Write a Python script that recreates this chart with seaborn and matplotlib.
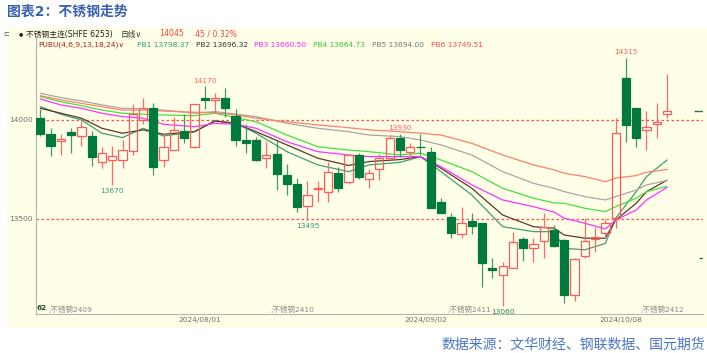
import matplotlib
matplotlib.use("Agg")
import matplotlib.pyplot as plt
import numpy as np
import pandas as pd
import seaborn as sns

# daily candles, 不锈钢主连, 2024-07-10 .. 2024-10-14 (index 0..61)
opens = [14010, 13930, 13895, 13940, 13918, 13920, 13789, 13798, 13796, 13845,
         14000, 14062, 13797, 13848, 13944, 13862, 14113, 14100, 14113, 14020,
         13899, 13899, 13807, 13830, 13722, 13675, 13566, 13652, 13635, 13731,
         13688, 13823, 13700, 13751, 13807, 13911, 13840, 13864, 13840, 13587,
         13512, 13423, 13491, 13478, 13254, 13216, 13254, 13398, 13354, 13390,
         13444, 13394, 13116, 13315, 13399, 13428, 13504, 14211, 14059, 13948,
         13981, 14029]
highs = [14055, 13960, 13930, 13960, 13995, 13945, 13862, 13870, 13897, 14081,
         14113, 14084, 13929, 14017, 14030, 14080, 14170, 14135, 14160, 14054,
         13978, 13916, 13894, 13899, 13776, 13706, 13692, 13692, 13786, 13764,
         13825, 13832, 13753, 13827, 13925, 13930, 13882, 13928, 13862, 13608,
         13532, 13562, 13532, 13480, 13302, 13284, 13436, 13411, 13403, 13529,
         13470, 13400, 13305, 13504, 13461, 13500, 14012, 14315, 14059, 14045,
         14087, 14231]
lows = [13920, 13820, 13825, 13835, 13870, 13765, 13756, 13670, 13759, 13822,
        13981, 13722, 13764, 13848, 13882, 13860, 14054, 14035, 14017, 13870,
        13835, 13795, 13759, 13646, 13621, 13537, 13495, 13587, 13587, 13638,
        13675, 13702, 13655, 13697, 13806, 13815, 13798, 13823, 13557, 13532,
        13406, 13403, 13423, 13155, 13201, 13060, 13250, 13288, 13285, 13302,
        13360, 13074, 13087, 13302, 13335, 13403, 13456, 13890, 13865, 13848,
        13911, 14009]
closes = [13930, 13870, 13905, 13925, 13963, 13815, 13835, 13817, 13848, 14032,
          14062, 13764, 13864, 13950, 13908, 14079, 14103, 14112, 14062, 13897,
          13882, 13798, 13822, 13727, 13675, 13562, 13621, 13657, 13736, 13655,
          13823, 13714, 13731, 13810, 13911, 13848, 13862, 13862, 13557, 13532,
          13431, 13481, 13466, 13279, 13241, 13264, 13382, 13352, 13372, 13461,
          13365, 13116, 13298, 13389, 13411, 13478, 13933, 13975, 13908, 13965,
          13990, 14044]

# PUBU(4,6,9,13,18,24) lines at these candle indices
pubu_idx = [0, 2, 4, 6, 8, 10, 12, 15, 17, 19, 21, 24, 27, 30, 32, 35, 37, 39,
            42, 45, 48, 50, 51, 53, 55, 56, 58, 59, 61]
pb1 = [14067, 14029, 14000, 13933, 13911, 13958, 13919, 13941, 13995, 13983, 13933,
       13840, 13773, 13739, 13773, 13786, 13815, 13739, 13621, 13461, 13436, 13436,
       13352, 13344, 13377, 13504, 13638, 13714, 13798]
pb2 = [14059, 14034, 14009, 13958, 13933, 13950, 13928, 13941, 13995, 13983, 13941,
       13874, 13807, 13770, 13790, 13800, 13815, 13756, 13655, 13520, 13461, 13453,
       13419, 13403, 13403, 13495, 13579, 13638, 13696]
pb3 = [14106, 14076, 14059, 14034, 14017, 14009, 13978, 13966, 13983, 13978, 13958,
       13890, 13840, 13823, 13815, 13815, 13815, 13764, 13672, 13596, 13562, 13535,
       13504, 13478, 13450, 13495, 13545, 13596, 13660]
pb4 = [14118, 14092, 14072, 14050, 14034, 14029, 14025, 14022, 14034, 14012, 13991,
       13924, 13865, 13848, 13840, 13823, 13832, 13798, 13739, 13655, 13605, 13581,
       13579, 13554, 13537, 13562, 13605, 13638, 13665]
pb5 = [14135, 14113, 14096, 14076, 14059, 14056, 14050, 14034, 14042, 14030, 14017,
       13983, 13958, 13941, 13924, 13916, 13899, 13874, 13823, 13739, 13680, 13655,
       13638, 13613, 13596, 13613, 13646, 13672, 13694]
pb6 = [14123, 14101, 14084, 14067, 14050, 14050, 14045, 14039, 14037, 14025, 14009,
       13991, 13975, 13961, 13950, 13941, 13933, 13924, 13882, 13823, 13773, 13748,
       13731, 13714, 13688, 13706, 13719, 13736, 13750]
pubu_names = ["PB1", "PB2", "PB3", "PB4", "PB5", "PB6"]
pubu_last = ["13798.37", "13696.32", "13660.50", "13664.73", "13694.00", "13749.51"]

date_labels = ["2024/08/01", "2024/09/02", "2024/10/08"]
date_idx = [16, 38, 57]
contracts = [";不锈钢2409", ";不锈钢2410", ";不锈钢2411", ";不锈钢2412"]
contract_pos = [0.75, 22.4, 39.6, 58.4]
yticks = [13500, 14000]

# marked highs / lows
marks_idx = [16, 7, 26, 35, 45, 57]
marks_val = [14170, 13670, 13495, 13930, 13060, 14315]
marks_up = [True, False, False, True, False, True]
marks_col = ["#ff6060", "#3a9a80", "#3a9a80", "#ff6060", "#2a8a50", "#ff6060"]

PANEL = "#fffee6"
GREEN = "#007a3c"
RED = "#ff5b5b"
pubu_colors = ["#3f9f75", "#5a3a2c", "#ff33ff", "#44e044", "#a8a8a0", "#ff8070"]
text_colors = ["#2f9f75", "#333333", "#ff22ff", "#33cc33", "#777777", "#ff4a4a"]

sns.set_theme(style="white")
plt.rcParams["font.family"] = ["DejaVu Sans", "Noto Sans CJK SC"]
plt.rcParams["axes.unicode_minus"] = False

W, H = 707, 353
def fx(px):
    return px / W
def fy(py):
    return 1 - py / H

fig = plt.figure(figsize=(W / 100, H / 100), dpi=100)
fig.patches.append(plt.Rectangle((fx(7), fy(328)), fx(707) - fx(7), fy(27) - fy(328),
                                 transform=fig.transFigure, facecolor=PANEL,
                                 edgecolor="none", zorder=-5))

ax = fig.add_axes([fx(36), fy(314), fx(703) - fx(36), fy(38) - fy(314)])
ax.set_facecolor("none")
ax.set_zorder(2)
ax.set_xlim(-0.42, 64.5)
ax.set_ylim(13020, 14414)

# dashed price levels
for v in yticks:
    ax.axhline(v, color="#ff5050", lw=0.9, ls=(0, (2, 2)), zorder=1)

# waterfall lines
rows = []
for name, vals in zip(pubu_names, [pb1, pb2, pb3, pb4, pb5, pb6]):
    for i, v in zip(pubu_idx, vals):
        rows.append({"idx": i, "value": v, "line": name})
pubu_df = pd.DataFrame(rows)
sns.lineplot(data=pubu_df, x="idx", y="value", hue="line", hue_order=pubu_names,
             palette=pubu_colors, estimator=None, legend=False, lw=0.9, ax=ax, zorder=2)

# candles
df = pd.DataFrame({"o": opens, "h": highs, "l": lows, "c": closes})
df["x"] = np.arange(len(df))
df["up"] = df["c"] >= df["o"]
df["lo"] = df[["o", "c"]].min(axis=1)
df["hi"] = df[["o", "c"]].max(axis=1)
df["body"] = (df["hi"] - df["lo"]).clip(lower=3)
for up, col, wick, face in [(True, RED, "#ff6a6a", "none"), (False, GREEN, "#3f9a66", GREEN)]:
    d = df[df["up"] == up]
    ax.vlines(d["x"], d["l"], d["lo"], color=wick, lw=0.9, zorder=3)
    ax.vlines(d["x"], d["hi"], d["h"], color=wick, lw=0.9, zorder=3)
    ax.bar(d["x"], d["body"], bottom=d["lo"], width=0.8, facecolor=face,
           edgecolor=col, lw=0.9, zorder=4)

# high / low marks
for i, v, up, c in zip(marks_idx, marks_val, marks_up, marks_col):
    ax.annotate(str(v), (i, v), xytext=(0, 2 if up else -2), textcoords="offset points",
                ha="center", va="bottom" if up else "top", fontsize=5.4, color=c, zorder=5)

# contract roll labels
for lab, p in zip(contracts, contract_pos):
    ax.text(p, 13045, lab, fontsize=5.4, color="#8a8a8a", ha="left", va="center", zorder=5)
ax.text(-0.4, 13048, "62", fontsize=5.2, color="#1a5a2a", fontweight="bold",
        ha="left", va="center", zorder=6)

# price markers on the right edge
ax.hlines([closes[-1]], 63.6, 64.5, color="#2a7a3a", lw=1.0, zorder=5)
ax.hlines([13303], 64.1, 64.5, color="#2a7a3a", lw=1.0, zorder=5)

ax.set_yticks(yticks)
ax.set_yticklabels([str(v) for v in yticks])
ax.set_xticks([i - 0.5 for i in date_idx])
ax.set_xticklabels(date_labels)
ax.tick_params(axis="both", length=0, labelsize=5.4, labelcolor="#707070")
ax.tick_params(axis="y", pad=2.2)
ax.tick_params(axis="x", pad=2)
ax.set_xlabel("")
ax.set_ylabel("")
for s in ["top", "right"]:
    ax.spines[s].set_visible(False)
for s in ["left", "bottom"]:
    ax.spines[s].set_color("#b4b4b4")
    ax.spines[s].set_linewidth(0.8)

# header rows
fig.text(fx(7), fy(12), "图表2：不锈钢走势", color="#3a62b0", fontsize=10,
         fontweight="bold", ha="left", va="center")
fig.text(fx(3), fy(34), "⊏", color="#555555", fontsize=5, ha="left", va="center")
fig.text(fx(19), fy(34), "●", color="#222222", fontsize=3.5, ha="left", va="center")
fig.text(fx(26), fy(34), "不锈钢主连(SHFE 6253)", color="#222222", fontsize=5.6,
         ha="left", va="center")
fig.text(fx(121), fy(34), "日线∨", color="#333333", fontsize=5.6, ha="left", va="center")
fig.text(fx(159), fy(34), "14045", color="#ff4040", fontsize=5.6, ha="left", va="center")
fig.text(fx(195), fy(34), "45 / 0.32%", color="#ff4040", fontsize=5.6, ha="left", va="center")

fig.text(fx(38), fy(45), "PUBU(4,6,9,13,18,24)∨", color="#b02020", fontsize=5.4,
         ha="left", va="center")
pb_x = [137, 196, 254, 313, 372, 431]
for px, name, last, c in zip(pb_x, pubu_names, pubu_last, text_colors):
    fig.text(fx(px), fy(45), f"{name} {last}", color=c, fontsize=5.4, ha="left", va="center")

fig.text(fx(705), fy(345), "数据来源：文华财经、钢联数据、国元期货", color="#4a76c8",
         fontsize=10, ha="right", va="center")

fig.savefig("out.png", dpi=100, facecolor="white")
